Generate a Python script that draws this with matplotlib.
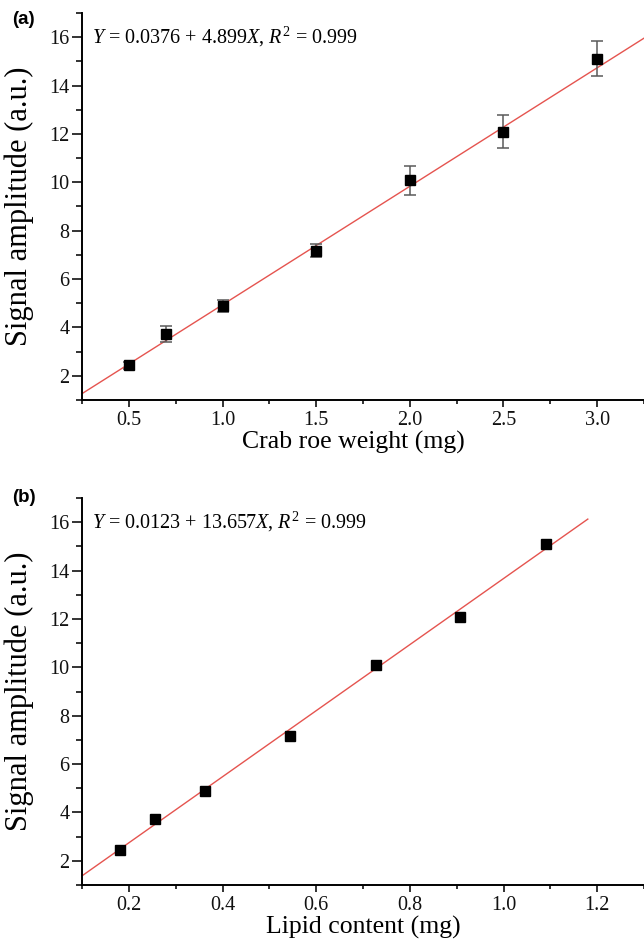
import matplotlib
matplotlib.use("Agg")
import matplotlib.pyplot as plt
import matplotlib.ticker as ticker
import numpy as np

plt.rcParams['font.family'] = ['Liberation Serif', 'DejaVu Serif']
plt.rcParams['mathtext.fontset'] = 'custom'
plt.rcParams['mathtext.rm'] = 'Liberation Serif'
plt.rcParams['mathtext.it'] = 'Liberation Serif:italic'

# panel (a): crab roe weight
roe_weight = [0.5, 0.7, 1.0, 1.5, 2.0, 2.5, 3.0]
amplitude = [2.44, 3.73, 4.89, 7.18, 10.08, 12.1, 15.11]
amplitude_err = [0.15, 0.32, 0.26, 0.26, 0.6, 0.68, 0.72]
fit_a = [0.0376, 4.899]
# panel (b): lipid content
lipid = [0.182, 0.255, 0.363, 0.545, 0.727, 0.907, 1.09]
fit_b = [0.0123, 13.657]

W, H = 644, 947
fig = plt.figure(figsize=(W / 100, H / 100), dpi=100)


def styleAxes(ax, xlim, xmajor, xminor, fmt):
    ax.set_xlim(*xlim)
    ax.set_ylim(1, 17)
    ax.spines['top'].set_visible(False)
    ax.spines['right'].set_visible(False)
    ax.spines['left'].set_linewidth(1.4)
    ax.spines['bottom'].set_linewidth(1.4)
    ax.xaxis.set_major_locator(ticker.MultipleLocator(xmajor))
    ax.xaxis.set_minor_locator(ticker.MultipleLocator(xminor))
    ax.xaxis.set_major_formatter(ticker.FormatStrFormatter(fmt))
    ax.yaxis.set_major_locator(ticker.MultipleLocator(2))
    ax.yaxis.set_minor_locator(ticker.MultipleLocator(1))
    ax.tick_params(which='both', direction='out', width=1.2, labelsize=14.5, colors='#111111')
    ax.tick_params(axis='x', which='major', length=5, pad=3)
    ax.tick_params(axis='x', which='minor', length=3)
    ax.tick_params(axis='y', which='major', length=7, pad=2)
    ax.tick_params(axis='y', which='minor', length=4.5)
    ax.set_ylabel("Signal amplitude (a.u.)", fontsize=22)
    ax.yaxis.set_label_coords(-0.085, 0.5)


left = 82 / W
width = 1 - left
height = (400 - 13) / H

# (a)
ax1 = fig.add_axes([left, 1 - 400 / H, width, height])
styleAxes(ax1, (0.25, 3.25), 0.5, 0.25, '%.1f')
xf = np.array([0.25, 3.3])
ax1.plot(xf, fit_a[0] + fit_a[1] * xf, color='#e5544f', linewidth=1.0, zorder=2)
ax1.errorbar(roe_weight, amplitude, yerr=amplitude_err, fmt='none', ecolor='#5a5a5a',
             elinewidth=1.1, capsize=4, capthick=1.1, zorder=3)
ax1.plot(roe_weight, amplitude, 's', color='black', markersize=6.5, zorder=4)
ax1.set_xlabel("Crab roe weight (mg)", fontsize=18.5)
ax1.xaxis.set_label_coords(0.482, -0.08)
ax1.text(0.017, 0.9375, r"$Y$ = 0.0376 + 4.899$X$, $R^2$ = 0.999", transform=ax1.transAxes,
         fontsize=14.5, va='center', ha='left')

# (b)
ax2 = fig.add_axes([left, 1 - 885 / H, width, height])
styleAxes(ax2, (0.1, 1.3), 0.2, 0.1, '%.1f')
xf = np.array([0.1, 1.18])
ax2.plot(xf, fit_b[0] + fit_b[1] * xf, color='#e5544f', linewidth=1.0, zorder=2)
ax2.plot(lipid, amplitude, 's', color='black', markersize=6.5, zorder=4)
ax2.set_xlabel("Lipid content (mg)", fontsize=18.5)
ax2.xaxis.set_label_coords(0.5, -0.08)
ax2.text(0.017, 0.9375, r"$Y$ = 0.0123 + 13.657$X$, $R^2$ = 0.999", transform=ax2.transAxes,
         fontsize=14.5, va='center', ha='left')

fig.text(12 / W, 1 - 20 / H, "(a)", fontsize=13.5, fontweight='bold', family='Liberation Sans', va='center')
fig.text(12 / W, 1 - 497 / H, "(b)", fontsize=13.5, fontweight='bold', family='Liberation Sans', va='center')

fig.savefig("out.png", dpi=100)
